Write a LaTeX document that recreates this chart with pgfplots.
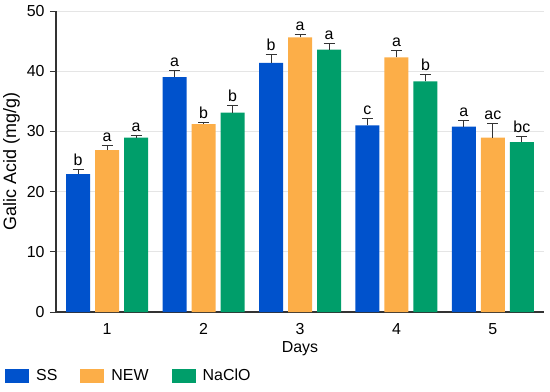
\documentclass[border=0pt]{standalone}
\usepackage{pgfplots}
\pgfplotsset{compat=1.18}
\usepackage{pgfplotstable}
\usepackage{fontspec}
\setmainfont{Liberation Sans}
\definecolor{cSS}{HTML}{0052CC}
\definecolor{cNEW}{HTML}{FCAE48}
\definecolor{cNa}{HTML}{009E6A}
\definecolor{axgray}{HTML}{333333}

\pgfplotstableread{
x y e lab
1 22.9 0.8 b
2 39.0 1.1 a
3 41.4 1.4 b
4 31.0 1.1 c
5 30.8 1.0 a
}\tSS
\pgfplotstableread{
x y e lab
1 26.9 0.8 a
2 31.2 0.25 b
3 45.6 0.5 a
4 42.3 1.1 a
5 28.95 2.35 ac
}\tNEW
\pgfplotstableread{
x y e lab
1 28.95 0.35 a
2 33.1 1.2 b
3 43.6 1.0 a
4 38.3 1.2 b
5 28.2 1.0 bc
}\tNa

\pgfplotsset{
  mylegend/.style={legend image code/.code={
    \fill[##1,draw=none] (0bp,-7bp) rectangle (24bp,7bp);
    \path (31bp,0bp);}},
  mybar/.style={fill=#1, draw=none,
    error bars/.cd, y dir=plus, y explicit,
    error bar style={line width=0.9pt, color=axgray},
    error mark options={rotate=90, mark size=5.5bp, line width=0.9pt, color=axgray},
    /pgfplots/.cd},
}

\begin{document}
\fontsize{16}{19}\selectfont
\begin{tikzpicture}
\begin{axis}[
  scale only axis,
  width=488bp, height=301bp,
  ybar=5bp, bar width=24bp,
  xmin=0.47, xmax=5.53,
  ymin=0, ymax=50,
  xtick={1,2,3,4,5},
  ytick={0,10,20,30,40,50},
  axis x line*=bottom, axis y line*=left,
  axis line style={axgray, line width=1.1pt},
  x tick style={draw=none},
  y tick style={axgray, line width=1pt},
  tick align=outside,
  major tick length=6bp,
  ymajorgrids,
  major grid style={draw=black!10, line width=0.8pt},
  /pgf/number format/assume math mode=true,
  xlabel={Days}, ylabel={Galic Acid (mg/g)},
  xlabel style={yshift=4bp},
  ylabel style={font=\fontsize{18}{21}\selectfont, yshift=-4bp},
  point meta=explicit symbolic,
  nodes near coords,
  visualization depends on={\thisrow{e} \as \myerr},
  every node near coord/.append style={anchor=base, shift={(axis direction cs:0,\myerr)}, yshift=4bp, text=black},
  legend columns=-1,
  legend style={draw=none, fill=none, at={(-0.1045,-0.213)}, anchor=west, inner sep=0pt,
    /tikz/every even column/.append style={column sep=23bp},
    nodes={inner sep=0pt}},
]
\addplot[mylegend, mybar=cSS] table[x=x, y=y, y error=e, meta=lab] {\tSS};
\addplot[mylegend, mybar=cNEW] table[x=x, y=y, y error=e, meta=lab] {\tNEW};
\addplot[mylegend, mybar=cNa] table[x=x, y=y, y error=e, meta=lab] {\tNa};
\legend{SS, NEW, NaClO}
\coordinate (sw) at (rel axis cs:0,0);
\coordinate (ne) at (rel axis cs:1,1);
\end{axis}
\pgfresetboundingbox
\path ([shift={(-56bp,-80bp)}]sw) rectangle ([shift={(6bp,11bp)}]ne);
\end{tikzpicture}
\end{document}
